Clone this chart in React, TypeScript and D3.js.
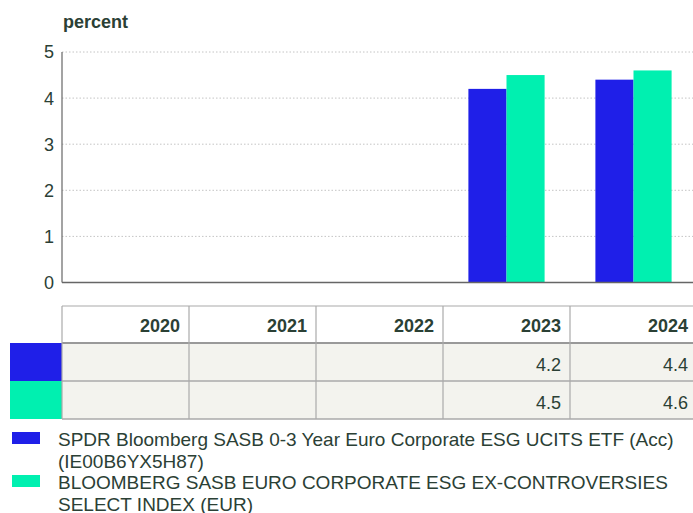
import React, { useEffect, useRef } from "react";
import * as d3 from "d3";

const categories = ["2020", "2021", "2022", "2023", "2024"];
const seriesNames = [
  "SPDR Bloomberg SASB 0-3 Year Euro Corporate ESG UCITS ETF (Acc) (IE00B6YX5H87)",
  "BLOOMBERG SASB EURO CORPORATE ESG EX-CONTROVERSIES SELECT INDEX (EUR)",
];
const fundValues: (number | null)[] = [null, null, null, 4.2, 4.4];
const indexValues: (number | null)[] = [null, null, null, 4.5, 4.6];
const seriesColors = ["#1f1fe8", "#00f0b0"];
const yTicks = [0, 1, 2, 3, 4, 5];
const yLabel = "percent";

const W = 693;
const H = 513;
const TEXT = "#2b4035";
const FONT = "'Liberation Sans', Arial, sans-serif";
const FS = 18;

export default function App() {
  const ref = useRef<SVGSVGElement>(null);

  useEffect(() => {
    const svg = d3.select(ref.current!);
    svg.selectAll("*").remove();
    const series = [fundValues, indexValues];

    const left = 62;
    const right = 697;
    const top = 52;
    const bottom = 282.5;

    const x = d3.scaleBand<string>().domain(categories).range([left, right]).paddingInner(0).paddingOuter(0);
    const inner = d3.scaleBand<number>().domain([0, 1]).range([0, x.bandwidth() * 0.6]);
    const y = d3.scaleLinear().domain([0, 5]).range([bottom, top]);

    // title
    svg.append("text").attr("x", 63).attr("y", 28).attr("font-family", FONT).attr("font-size", FS)
      .attr("font-weight", "bold").attr("fill", TEXT).text(yLabel);

    // grid
    svg.append("g").selectAll("line").data(yTicks.filter(t => t > 0)).join("line")
      .attr("x1", left).attr("x2", W).attr("y1", d => y(d)).attr("y2", d => y(d))
      .attr("stroke", "#c4c4c4").attr("stroke-width", 1).attr("stroke-dasharray", "1.5,2");

    // tick labels
    svg.append("g").selectAll("text").data(yTicks).join("text")
      .attr("x", 54).attr("y", d => y(d)).attr("dy", "0.36em").attr("text-anchor", "end")
      .attr("font-family", FONT).attr("font-size", FS).attr("fill", TEXT).text(d => String(d));

    // bars
    series.forEach((vals, si) => {
      svg.append("g").selectAll("rect").data(categories.map((c, i) => ({ c, v: vals[i] })).filter(d => d.v != null))
        .join("rect")
        .attr("x", d => x(d.c)! + x.bandwidth() * 0.2 + inner(si)!)
        .attr("width", inner.bandwidth())
        .attr("y", d => y(d.v as number))
        .attr("height", d => bottom - y(d.v as number))
        .attr("fill", seriesColors[si]);
    });

    // axes lines
    svg.append("line").attr("x1", left).attr("x2", left).attr("y1", top).attr("y2", bottom)
      .attr("stroke", "#666").attr("stroke-width", 1.2);
    svg.append("line").attr("x1", left).attr("x2", W).attr("y1", bottom).attr("y2", bottom)
      .attr("stroke", "#666").attr("stroke-width", 1.5);

    // table
    const tTop = 306;
    const hBottom = 343;
    const rowH = 38;
    const tbl = svg.append("g");
    series.forEach((_, si) => {
      tbl.append("rect").attr("x", left).attr("y", hBottom + si * rowH).attr("width", W - left).attr("height", rowH)
        .attr("fill", "#f3f3ee");
      tbl.append("rect").attr("x", 10).attr("y", hBottom + si * rowH).attr("width", left - 10).attr("height", rowH)
        .attr("fill", seriesColors[si]);
    });
    const tBottom = hBottom + series.length * rowH;
    tbl.append("line").attr("x1", left).attr("x2", W).attr("y1", tTop).attr("y2", tTop).attr("stroke", "#aaa").attr("stroke-width", 1.2);
    tbl.append("line").attr("x1", left).attr("x2", W).attr("y1", hBottom).attr("y2", hBottom).attr("stroke", "#999").attr("stroke-width", 2);
    series.forEach((_, si) => {
      const yy = hBottom + (si + 1) * rowH;
      tbl.append("line").attr("x1", left).attr("x2", W).attr("y1", yy).attr("y2", yy).attr("stroke", "#aaa").attr("stroke-width", 1.5);
    });
    tbl.selectAll("line.v").data(categories).join("line").attr("class", "v")
      .attr("x1", d => x(d)!).attr("x2", d => x(d)!).attr("y1", tTop).attr("y2", tBottom)
      .attr("stroke", "#aaa").attr("stroke-width", 1.2);
    tbl.selectAll("text.h").data(categories).join("text").attr("class", "h")
      .attr("x", d => x(d)! + x.bandwidth() - 9).attr("y", 332).attr("text-anchor", "end")
      .attr("font-family", FONT).attr("font-size", FS).attr("font-weight", "bold").attr("fill", TEXT).text(d => d);
    series.forEach((vals, si) => {
      tbl.append("g").selectAll("text").data(categories.map((c, i) => ({ c, v: vals[i] })).filter(d => d.v != null))
        .join("text")
        .attr("x", d => x(d.c)! + x.bandwidth() - 9).attr("y", hBottom + si * rowH + 28).attr("text-anchor", "end")
        .attr("font-family", FONT).attr("font-size", FS).attr("fill", TEXT).text(d => (d.v as number).toFixed(1));
    });

    // legend
    const lg = svg.append("g");
    const lineH = 21.5;
    const maxW = 628;
    let yCursor = 446;
    seriesNames.forEach((name, si) => {
      lg.append("rect").attr("x", 12).attr("y", yCursor - 14).attr("width", 28).attr("height", 12).attr("fill", seriesColors[si]);
      const t = lg.append("text").attr("x", 58).attr("y", yCursor).attr("font-family", FONT).attr("font-size", 19).attr("fill", TEXT);
      const words = name.split(" ");
      let line: string[] = [];
      let ts = t.append("tspan").attr("x", 58).attr("y", yCursor);
      let lines = 1;
      words.forEach(w => {
        line.push(w);
        ts.text(line.join(" "));
        if ((ts.node() as SVGTSpanElement).getComputedTextLength() > maxW && line.length > 1) {
          line.pop();
          ts.text(line.join(" "));
          line = [w];
          lines++;
          ts = t.append("tspan").attr("x", 58).attr("y", yCursor + (lines - 1) * lineH).text(w);
        }
      });
      yCursor += lines * lineH;
    });
  }, []);

  return (
    <svg ref={ref} width={W} height={H} style={{ position: "absolute", left: 0, top: 0, background: "#fff" }} />
  );
}
